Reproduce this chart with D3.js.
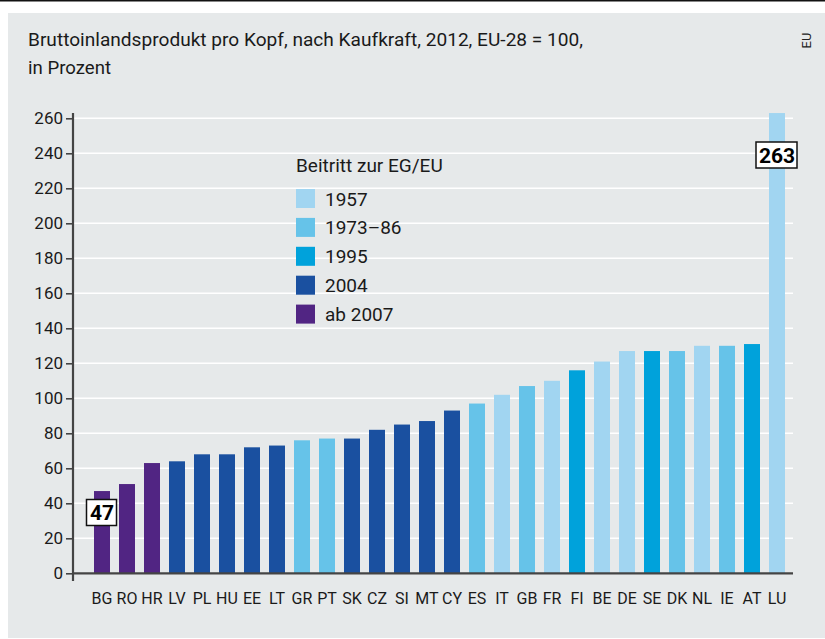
<!DOCTYPE html>
<html>
<head>
<meta charset="utf-8">
<script src="https://cdn.jsdelivr.net/npm/d3@7"></script>
<style>
  body { margin: 0; background: #fff; }
  text { font-family: "Roboto", "Liberation Sans", sans-serif; }
</style>
</head>
<body>
<div id="container"></div>
<script>
/* DATA */
const countries = ['BG','RO','HR','LV','PL','HU','EE','LT','GR','PT','SK','CZ','SI','MT','CY',
                   'ES','IT','GB','FR','FI','BE','DE','SE','DK','NL','IE','AT','LU']
const values = [47, 51, 63, 64, 68, 68, 72, 73, 76, 77, 77, 82, 85, 87, 93,
                97, 102, 107, 110, 116, 121, 127, 127, 127, 130, 130, 131, 263]
const accession = ['2007','2007','2007','2004','2004','2004','2004','2004','1973','1973','2004','2004','2004','2004','2004',
                   '1973','1957','1973','1957','1995','1957','1957','1995','1973','1957','1973','1995','1957']
const groupKeys = ['1957','1973','1995','2004','2007']
const groupLabels = ['1957','1973–86','1995','2004','ab 2007']
const groupColors = ['#a1d5f1','#66c3e9','#00a2db','#1a50a0','#512583']
const yTicks = [0,20,40,60,80,100,120,140,160,180,200,220,240,260]
const highlights = [{ i: 0, label: '47' }, { i: 27, label: '263' }]

/* SET UP */
const width = 825, height = 639
const axisX = 73, plotRight = 793
const svg = d3.select('#container').append('svg')
  .attr('width', width).attr('height', height)

svg.append('rect').attr('x', 0).attr('y', 0).attr('width', width).attr('height', 1.5).attr('fill', '#111')
svg.append('rect').attr('x', 8).attr('y', 13).attr('width', width - 8).attr('height', 625).attr('fill', '#e6e9ea')

svg.append('text').attr('x', 28).attr('y', 46).attr('font-size', 19).attr('fill', '#1a1a1a')
  .attr('textLength', 555).attr('lengthAdjust', 'spacingAndGlyphs')
  .text('Bruttoinlandsprodukt pro Kopf, nach Kaufkraft, 2012, EU-28 = 100,')
svg.append('text').attr('x', 28).attr('y', 74).attr('font-size', 19).attr('fill', '#1a1a1a')
  .attr('textLength', 83).attr('lengthAdjust', 'spacingAndGlyphs')
  .text('in Prozent')
svg.append('text').attr('transform', 'translate(811,40.5) rotate(-90)')
  .attr('text-anchor', 'middle').attr('font-size', 13).attr('fill', '#222').text('EU')

const x = d3.scaleBand().domain(countries)
  .range([89.5, 789.5]).paddingInner(0.36).paddingOuter(0.18)
const y = d3.scaleLinear().domain([0, 260]).range([573.3, 118.3])
const color = d3.scaleOrdinal().domain(groupKeys).range(groupColors)

// gridlines
svg.append('g').selectAll('line').data(yTicks.filter(d => d > 0)).enter().append('line')
  .attr('x1', axisX).attr('x2', plotRight)
  .attr('y1', d => y(d)).attr('y2', d => y(d))
  .attr('stroke', '#fff').attr('stroke-width', 1.6)

// bars
svg.append('g').selectAll('rect').data(values).enter().append('rect')
  .attr('x', (d, i) => x(countries[i]))
  .attr('width', x.bandwidth())
  .attr('y', d => y(d))
  .attr('height', d => y(0) - y(d))
  .attr('fill', (d, i) => color(accession[i]))

// y axis
const yAxis = svg.append('g').attr('transform', 'translate(' + axisX + ',0)')
  .call(d3.axisLeft(y).tickValues(yTicks).tickSize(7).tickPadding(3))
yAxis.select('.domain').remove()
yAxis.selectAll('line').attr('stroke', '#444').attr('stroke-width', 1.6)
yAxis.selectAll('text').attr('font-size', 17).attr('fill', '#1a1a1a')
  .attr('font-family', 'Roboto, sans-serif')
svg.append('line').attr('x1', axisX).attr('x2', axisX)
  .attr('y1', 113).attr('y2', 581).attr('stroke', '#444').attr('stroke-width', 2.2)
svg.append('line').attr('x1', axisX).attr('x2', plotRight)
  .attr('y1', y(0)).attr('y2', y(0)).attr('stroke', '#444').attr('stroke-width', 2.2)

// x labels
svg.append('g').selectAll('text').data(countries).enter().append('text')
  .attr('x', d => x(d) + x.bandwidth() / 2).attr('y', 604)
  .attr('text-anchor', 'middle').attr('font-size', 16).attr('fill', '#1a1a1a')
  .text(d => d)

// value boxes
highlights.forEach(function(h) {
  const cx = x(countries[h.i]) + x.bandwidth() / 2
  const cy = h.i === 0 ? 512.5 : 155
  const w = h.label.length * 11 + 8
  svg.append('rect').attr('x', cx - w / 2 - 0.5).attr('y', cy - 13)
    .attr('width', w).attr('height', 26).attr('fill', '#fff')
    .attr('stroke', '#111').attr('stroke-width', 1.5)
  svg.append('text').attr('x', cx).attr('y', cy + 7.5).attr('text-anchor', 'middle')
    .attr('font-size', 21).attr('font-weight', 'bold').attr('fill', '#000')
    .text(h.label)
})

// legend
const legend = svg.append('g').attr('transform', 'translate(296,0)')
legend.append('text').attr('x', 0).attr('y', 172).attr('font-size', 19).attr('fill', '#1a1a1a')
  .text('Beitritt zur EG/EU')
groupLabels.forEach(function(lbl, i) {
  const cy = 198.5 + i * 28.9
  legend.append('rect').attr('x', 0).attr('y', cy - 9.5).attr('width', 19).attr('height', 19)
    .attr('fill', groupColors[i])
  legend.append('text').attr('x', 29).attr('y', cy + 7).attr('font-size', 19).attr('fill', '#1a1a1a')
    .text(lbl)
})
</script>
</body>
</html>
